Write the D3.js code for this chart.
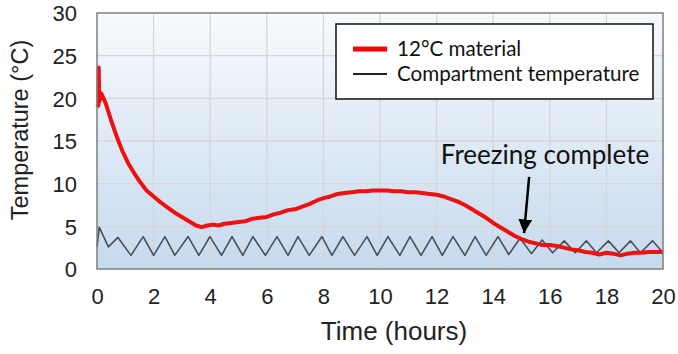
<!DOCTYPE html>
<html><head><meta charset="utf-8">
<script src="https://cdn.jsdelivr.net/npm/d3@7"></script>
<style>html,body{margin:0;padding:0;background:#fff;}svg{display:block;}</style>
</head><body>
<svg id="chart" width="678" height="354"></svg>
<script>
// ---- data ----
const xTicks = [0,2,4,6,8,10,12,14,16,18,20];
const yTicks = [0,5,10,15,20,25,30];
const seriesNames = ["12°C material", "Compartment temperature"];
const materialTime = [0,0.05,0.06,0.08,0.15,0.3,0.5,0.7,0.9,1.1,1.3,1.5,1.75,2.0,2.25,2.5,2.75,3.0,3.25,3.5,3.7,3.9,4.1,4.3,4.5,4.75,5.0,5.25,5.5,5.75,6.0,6.25,6.5,6.75,7.0,7.25,7.5,7.75,8.0,8.25,8.5,8.75,9.0,9.25,9.5,9.75,10.0,10.25,10.5,10.75,11.0,11.25,11.5,11.75,12.0,12.25,12.5,12.75,13.0,13.25,13.5,13.75,14.0,14.25,14.5,14.75,15.0,15.25,15.5,15.75,16.0,16.25,16.5,16.75,17.0,17.25,17.5,17.75,18.0,18.25,18.5,18.75,19.0,19.25,19.5,19.75,20.0];
const materialTemp = [19.0,19.2,23.6,19.6,20.6,19.5,17.4,15.5,13.8,12.4,11.3,10.3,9.2,8.5,7.8,7.2,6.6,6.1,5.6,5.1,4.9,5.1,5.2,5.1,5.3,5.4,5.5,5.6,5.9,6.0,6.1,6.4,6.6,6.9,7.0,7.3,7.6,8.0,8.3,8.5,8.8,8.9,9.0,9.1,9.1,9.2,9.2,9.2,9.1,9.1,9.0,9.0,8.9,8.8,8.7,8.5,8.2,7.9,7.5,7.0,6.5,6.0,5.4,4.9,4.4,3.9,3.5,3.2,3.0,2.8,2.8,2.7,2.5,2.3,2.2,2.0,1.9,1.7,1.9,1.8,1.6,1.8,1.9,1.9,2.0,2.0,2.0];
const compTime = [0,0.08,0.4,0.74,1.2,1.63,2.0,2.4,2.75,3.22,3.6,3.99,4.4,4.77,5.15,5.51,5.95,6.36,6.75,7.1,7.5,7.95,8.3,8.69,9.1,9.54,9.9,10.28,10.7,11.06,11.45,11.84,12.2,12.58,13.0,13.36,13.75,14.17,14.55,14.95,15.35,15.73,16.1,16.51,16.9,17.29,17.65,18.07,18.45,18.85,19.2,19.63,20.0];
const compTemp = [2.6,4.9,2.6,3.7,1.6,3.8,1.6,3.8,1.6,3.8,1.6,3.8,1.6,3.8,1.6,3.8,1.6,3.8,1.6,3.8,1.6,3.8,1.6,3.8,1.6,3.8,1.6,3.8,1.6,3.8,1.6,3.8,1.6,3.8,1.6,3.8,1.6,3.8,1.7,3.6,1.8,3.4,1.9,3.3,1.9,3.3,1.9,3.3,1.9,3.3,1.9,3.3,1.9];
const annotationText = "Freezing complete";
const annotationTextPos = [15.83, 12.3];
const arrowFrom = [15.27, 10.8];
const arrowTo = [15.09, 4.2];

// ---- chart ----
const svg = d3.select("#chart");
const m = {left:97, top:13, right:663, bottom:269};
const x = d3.scaleLinear().domain([0,20]).range([m.left, m.right]);
const y = d3.scaleLinear().domain([0,30]).range([m.bottom, m.top]);

const defs = svg.append("defs");
const grad = defs.append("linearGradient").attr("id","bg").attr("x1",0).attr("y1",0).attr("x2",0).attr("y2",1);
grad.append("stop").attr("offset","0%").attr("stop-color","#f7fafd");
grad.append("stop").attr("offset","100%").attr("stop-color","#c6daee");
defs.append("marker").attr("id","arrow").attr("viewBox","0 0 10 10").attr("refX",10).attr("refY",5)
  .attr("markerWidth",5.5).attr("markerHeight",5.5).attr("markerUnits","strokeWidth").attr("orient","auto")
  .append("path").attr("d","M0,0 L10,5 L0,10 z").attr("fill","#000");

svg.append("rect").attr("x",m.left).attr("y",m.top).attr("width",m.right-m.left).attr("height",m.bottom-m.top).attr("fill","url(#bg)");

// gridlines
svg.append("g").selectAll("line").data(xTicks.slice(1,-1)).join("line")
  .attr("x1",d=>x(d)).attr("x2",d=>x(d)).attr("y1",m.top).attr("y2",m.bottom)
  .attr("stroke","#d6d6d8").attr("stroke-width",1.3);
svg.append("g").selectAll("line").data(yTicks.slice(1,-1)).join("line")
  .attr("y1",d=>y(d)).attr("y2",d=>y(d)).attr("x1",m.left).attr("x2",m.right)
  .attr("stroke","#d6d6d8").attr("stroke-width",1.3);

// axes
const xAxis = svg.append("g").attr("transform",`translate(0,${m.bottom})`)
  .call(d3.axisBottom(x).tickValues(xTicks).tickSize(0).tickPadding(19));
const yAxis = svg.append("g").attr("transform",`translate(${m.left},0)`)
  .call(d3.axisLeft(y).tickValues(yTicks).tickSize(0).tickPadding(20));
[xAxis,yAxis].forEach(a=>{a.select(".domain").remove();
  a.selectAll("text").attr("font-family","'Liberation Sans', Arial, sans-serif").attr("font-size",22).attr("fill","#222");});
yAxis.selectAll("text").attr("dy","0.36em");

// lines
const compData = compTime.map((t,i)=>[t,compTemp[i]]);
const matData = materialTime.map((t,i)=>[t,materialTemp[i]]);
const line = d3.line().x(d=>x(d[0])).y(d=>y(d[1]));
svg.append("path").datum(compData).attr("d",line).attr("fill","none").attr("stroke","#4a4f55").attr("stroke-width",1.6).attr("stroke-linejoin","round");
svg.append("path").datum(matData).attr("d",line).attr("fill","none").attr("stroke","#f01010").attr("stroke-width",4).attr("stroke-linejoin","round");

// frame
svg.append("rect").attr("x",m.left).attr("y",m.top).attr("width",m.right-m.left).attr("height",m.bottom-m.top)
  .attr("fill","none").attr("stroke","#7f7f7f").attr("stroke-width",1.5);

// legend
const lg = svg.append("g");
lg.append("rect").attr("x",336).attr("y",24).attr("width",317).attr("height",75).attr("fill","#fff").attr("stroke","#111").attr("stroke-width",1.5);
const lcol = ["#ff0000","#222"], lw=[5,2];
seriesNames.forEach((n,i)=>{
  const yy = 49 + i*25;
  lg.append("line").attr("x1",353).attr("x2",387).attr("y1",yy).attr("y2",yy).attr("stroke",lcol[i]).attr("stroke-width",lw[i]);
  lg.append("text").attr("x",397).attr("y",yy).attr("dy","0.35em").text(n)
    .attr("font-family","Lato, 'Noto Sans', sans-serif").attr("font-size",20.6).attr("fill","#111");
});

// annotation
svg.append("line").attr("x1",x(arrowFrom[0])).attr("y1",y(arrowFrom[1])).attr("x2",x(arrowTo[0])).attr("y2",y(arrowTo[1]))
  .attr("stroke","#000").attr("stroke-width",2.5).attr("marker-end","url(#arrow)");
svg.append("text").attr("x",x(annotationTextPos[0])).attr("y",y(annotationTextPos[1])).attr("text-anchor","middle")
  .text(annotationText).attr("font-family","Lato, 'Noto Sans', sans-serif").attr("font-size",26).attr("fill","#111");

// axis titles
svg.append("text").attr("x",394).attr("y",340).attr("text-anchor","middle").text("Time (hours)")
  .attr("font-family","'Liberation Sans', Arial, sans-serif").attr("font-size",26).attr("fill","#222");
svg.append("text").attr("transform",`translate(28,130) rotate(-90)`).attr("text-anchor","middle").text("Temperature (°C)")
  .attr("font-family","'Liberation Sans', Arial, sans-serif").attr("font-size",23.5).attr("fill","#222");
</script>
</body></html>
